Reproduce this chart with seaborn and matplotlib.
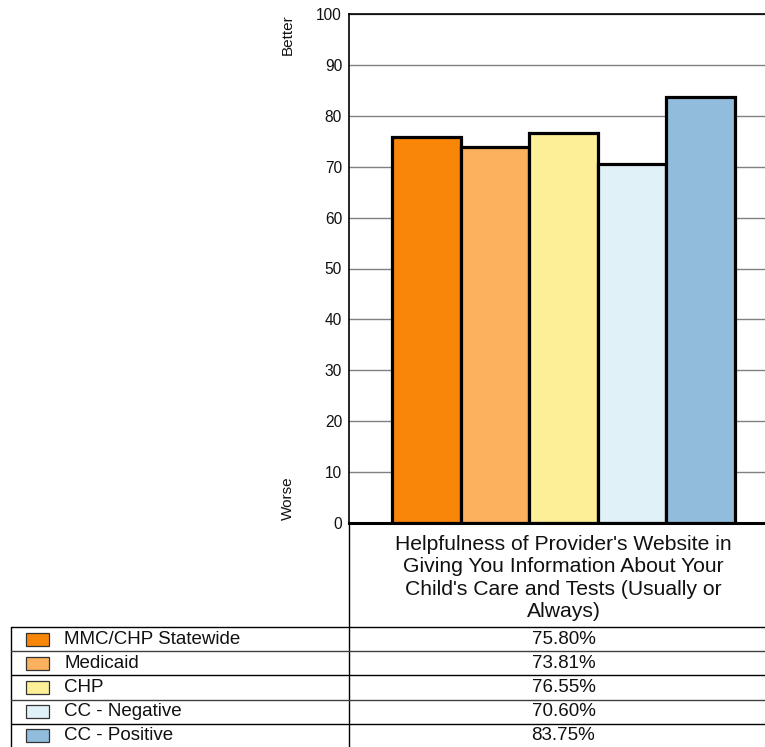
import matplotlib
matplotlib.use("Agg")
import matplotlib.pyplot as plt
import seaborn as sns
import pandas as pd
from matplotlib.patches import Rectangle

# Survey measure and results by population
measure = ("Helpfulness of Provider's Website in\nGiving You Information About Your\n"
           "Child's Care and Tests (Usually or\nAlways)")
groups = ["MMC/CHP Statewide", "Medicaid", "CHP", "CC - Negative", "CC - Positive"]
rates = [75.80, 73.81, 76.55, 70.60, 83.75]
colors = ["#F98608", "#FBB15E", "#FDEE98", "#E0F1F7", "#91BCDC"]
y_ticks = [0, 10, 20, 30, 40, 50, 60, 70, 80, 90, 100]

df = pd.DataFrame({"measure": [measure] * len(groups), "group": groups, "rate": rates})

sns.set_theme(style="white")
plt.rcParams["font.family"] = ["Liberation Sans", "DejaVu Sans"]
plt.rcParams["text.color"] = "black"

W, H = 765, 747
fig = plt.figure(figsize=(W / 100, H / 100), dpi=100)

# plot area in pixel coordinates
x0, x1, y_top, y_bot = 349, 778, 14, 523
ax = fig.add_axes([x0 / W, (H - y_bot) / H, (x1 - x0) / W, (y_bot - y_top) / H])
ax.set_zorder(1)

sns.barplot(data=df, x="measure", y="rate", hue="group", hue_order=groups,
            palette=colors, edgecolor="black", linewidth=2.3, width=0.8,
            saturation=1, legend=False, ax=ax)

ax.set_ylim(0, 100)
ax.set_xlim(-0.5, 0.5)
ax.set_yticks(y_ticks)
ax.set_yticklabels([str(t) for t in y_ticks], fontsize=11.2, color="#111111")
ax.tick_params(axis="y", length=0, pad=5)
ax.set_xticks([])
ax.set_xlabel("")
ax.set_ylabel("")
ax.yaxis.grid(True, color="#808080", linewidth=1)
ax.set_axisbelow(True)
for side in ["left", "top"]:
    ax.spines[side].set_visible(True)
    ax.spines[side].set_color("black")
    ax.spines[side].set_linewidth(1.2)
ax.spines["right"].set_visible(False)
ax.spines["bottom"].set_color("black")
ax.spines["bottom"].set_linewidth(2.2)

# overlay in pixel units for labels and the data table
ov = fig.add_axes([0, 0, 1, 1])
ov.set_xlim(0, W)
ov.set_ylim(H, 0)
ov.axis("off")
ov.set_zorder(2)
ov.patch.set_alpha(0)

ov.text(288, 35, "Better", rotation=90, ha="center", va="center", fontsize=11, color="#111111")
ov.text(288, 498, "Worse", rotation=90, ha="center", va="center", fontsize=11, color="#111111")

cx = (x0 + x1) / 2
ov.text(cx, 535, measure, ha="center", va="top", fontsize=15.2, linespacing=1.23,
        color="#111111")

# data table below the chart
row_top = 627
row_h = 24.2
ov.plot([x0, x0], [y_bot, H], color="black", lw=1)
ov.plot([11, 11], [row_top, H], color="black", lw=1)
for i, (g, r, c) in enumerate(zip(groups, rates, colors)):
    yt = row_top + i * row_h
    ov.plot([11, W], [yt, yt], color="#404040" if i % 2 else "black", lw=1)
    ym = yt + row_h / 2
    ov.add_patch(Rectangle((26, ym - 6.5), 23, 13, facecolor=c,
                           edgecolor="#333333", lw=0.9))
    ov.text(64, ym, g, ha="left", va="center", fontsize=13.5, color="#111111")
    ov.text(cx, ym, f"{r:.2f}%", ha="center", va="center", fontsize=13.5, color="#111111")

fig.savefig("out.png", dpi=100)
